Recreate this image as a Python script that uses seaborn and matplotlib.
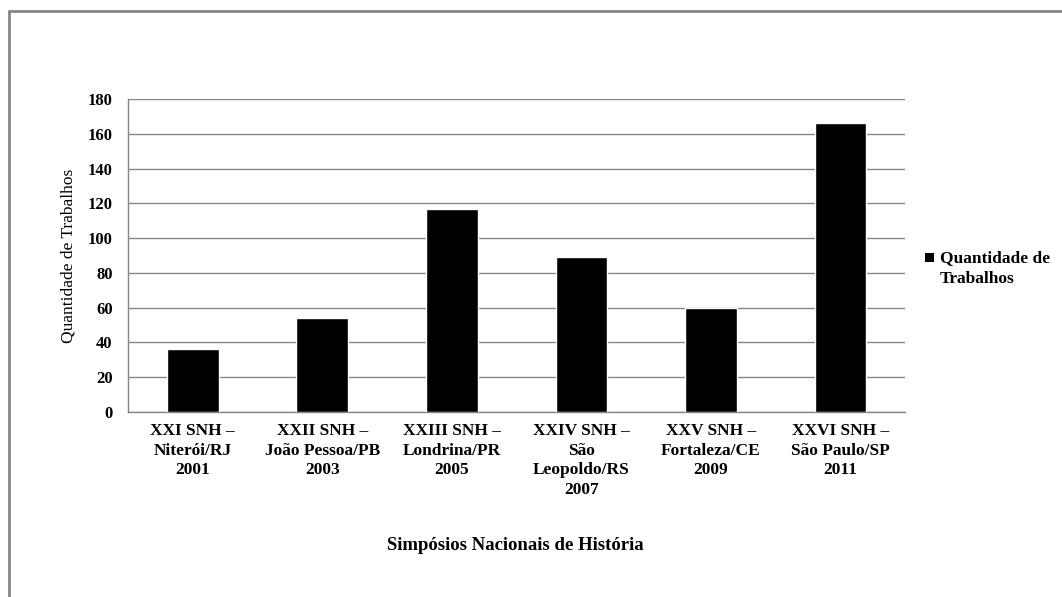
import matplotlib
matplotlib.use("Agg")
import matplotlib.pyplot as plt
from matplotlib.patches import Rectangle
from matplotlib.lines import Line2D
import seaborn as sns
import pandas as pd

# Simpósios and number of papers presented
simposios = [
    "XXI SNH –\nNiterói/RJ\n2001",
    "XXII SNH –\nJoão Pessoa/PB\n2003",
    "XXIII SNH –\nLondrina/PR\n2005",
    "XXIV SNH –\nSão\nLeopoldo/RS\n2007",
    "XXV SNH –\nFortaleza/CE\n2009",
    "XXVI SNH –\nSão Paulo/SP\n2011",
]
trabalhos = [36, 54, 117, 89, 60, 166]
y_ticks = [0, 20, 40, 60, 80, 100, 120, 140, 160, 180]
serie = "Quantidade de\nTrabalhos"

df = pd.DataFrame({"Simpósio": simposios, "Trabalhos": trabalhos})

sns.set_theme(style="white")
plt.rcParams["font.family"] = ["Liberation Serif", "DejaVu Serif"]
plt.rcParams["text.color"] = "black"
plt.rcParams["axes.labelcolor"] = "black"

grey = "#868686"
fig = plt.figure(figsize=(10.62, 5.97), dpi=100)
ax = fig.add_axes([0.1205, 0.310, 0.732, 0.524])

sns.barplot(data=df, x="Simpósio", y="Trabalhos", color="black",
            width=0.4, saturation=1, ax=ax, zorder=3)

ax.set_ylim(0, 180)
ax.set_xlim(-0.5, len(simposios) - 0.5)
ax.set_yticks(y_ticks)
ax.set_yticklabels([str(v) for v in y_ticks], fontsize=12, fontweight="bold")
ax.set_xticks(range(len(simposios)))
ax.set_xticklabels(simposios, fontsize=12.5, fontweight="bold", linespacing=1.3)
ax.tick_params(axis="x", which="major", length=0, pad=8, colors="black")
ax.set_xticks([i - 0.5 for i in range(len(simposios) + 1)], minor=True)
ax.tick_params(axis="x", which="minor", length=6, color=grey, width=1)
ax.tick_params(axis="y", length=5, width=1, pad=6, colors="black")
ax.tick_params(axis="y", color=grey)

ax.yaxis.grid(True, color=grey, linewidth=1)
ax.set_axisbelow(True)
for side in ["top", "right"]:
    ax.spines[side].set_visible(False)
for side in ["left", "bottom"]:
    ax.spines[side].set_color(grey)
    ax.spines[side].set_linewidth(1)

ax.set_ylabel("Quantidade de Trabalhos", fontsize=12.5, labelpad=8,
              color="black")
ax.set_xlabel("")
fig.text(0.485, 0.087, "Simpósios Nacionais de História", ha="center",
         va="center", fontsize=13.5, fontweight="bold", color="black")

# Series key to the right of the plot area
key_x, key_y, key_s = 925 / 1062, 1 - 262 / 597, 9 / 1062
fig.add_artist(Rectangle((key_x, key_y), key_s, key_s * 1062 / 597,
                         transform=fig.transFigure, facecolor="black",
                         edgecolor="none"))
fig.text(940 / 1062, 1 - 250 / 597, serie, ha="left", va="top",
         fontsize=12.5, fontweight="bold", linespacing=1.4, color="black")

# Chart frame
fig.add_artist(Line2D([9 / 1062, 9 / 1062], [0, 1 - 11 / 597],
                      transform=fig.transFigure, color=grey, linewidth=2))
fig.add_artist(Line2D([9 / 1062, 1], [1 - 11 / 597, 1 - 11 / 597],
                      transform=fig.transFigure, color=grey, linewidth=2))

fig.savefig("out.png", dpi=100, facecolor="white")
